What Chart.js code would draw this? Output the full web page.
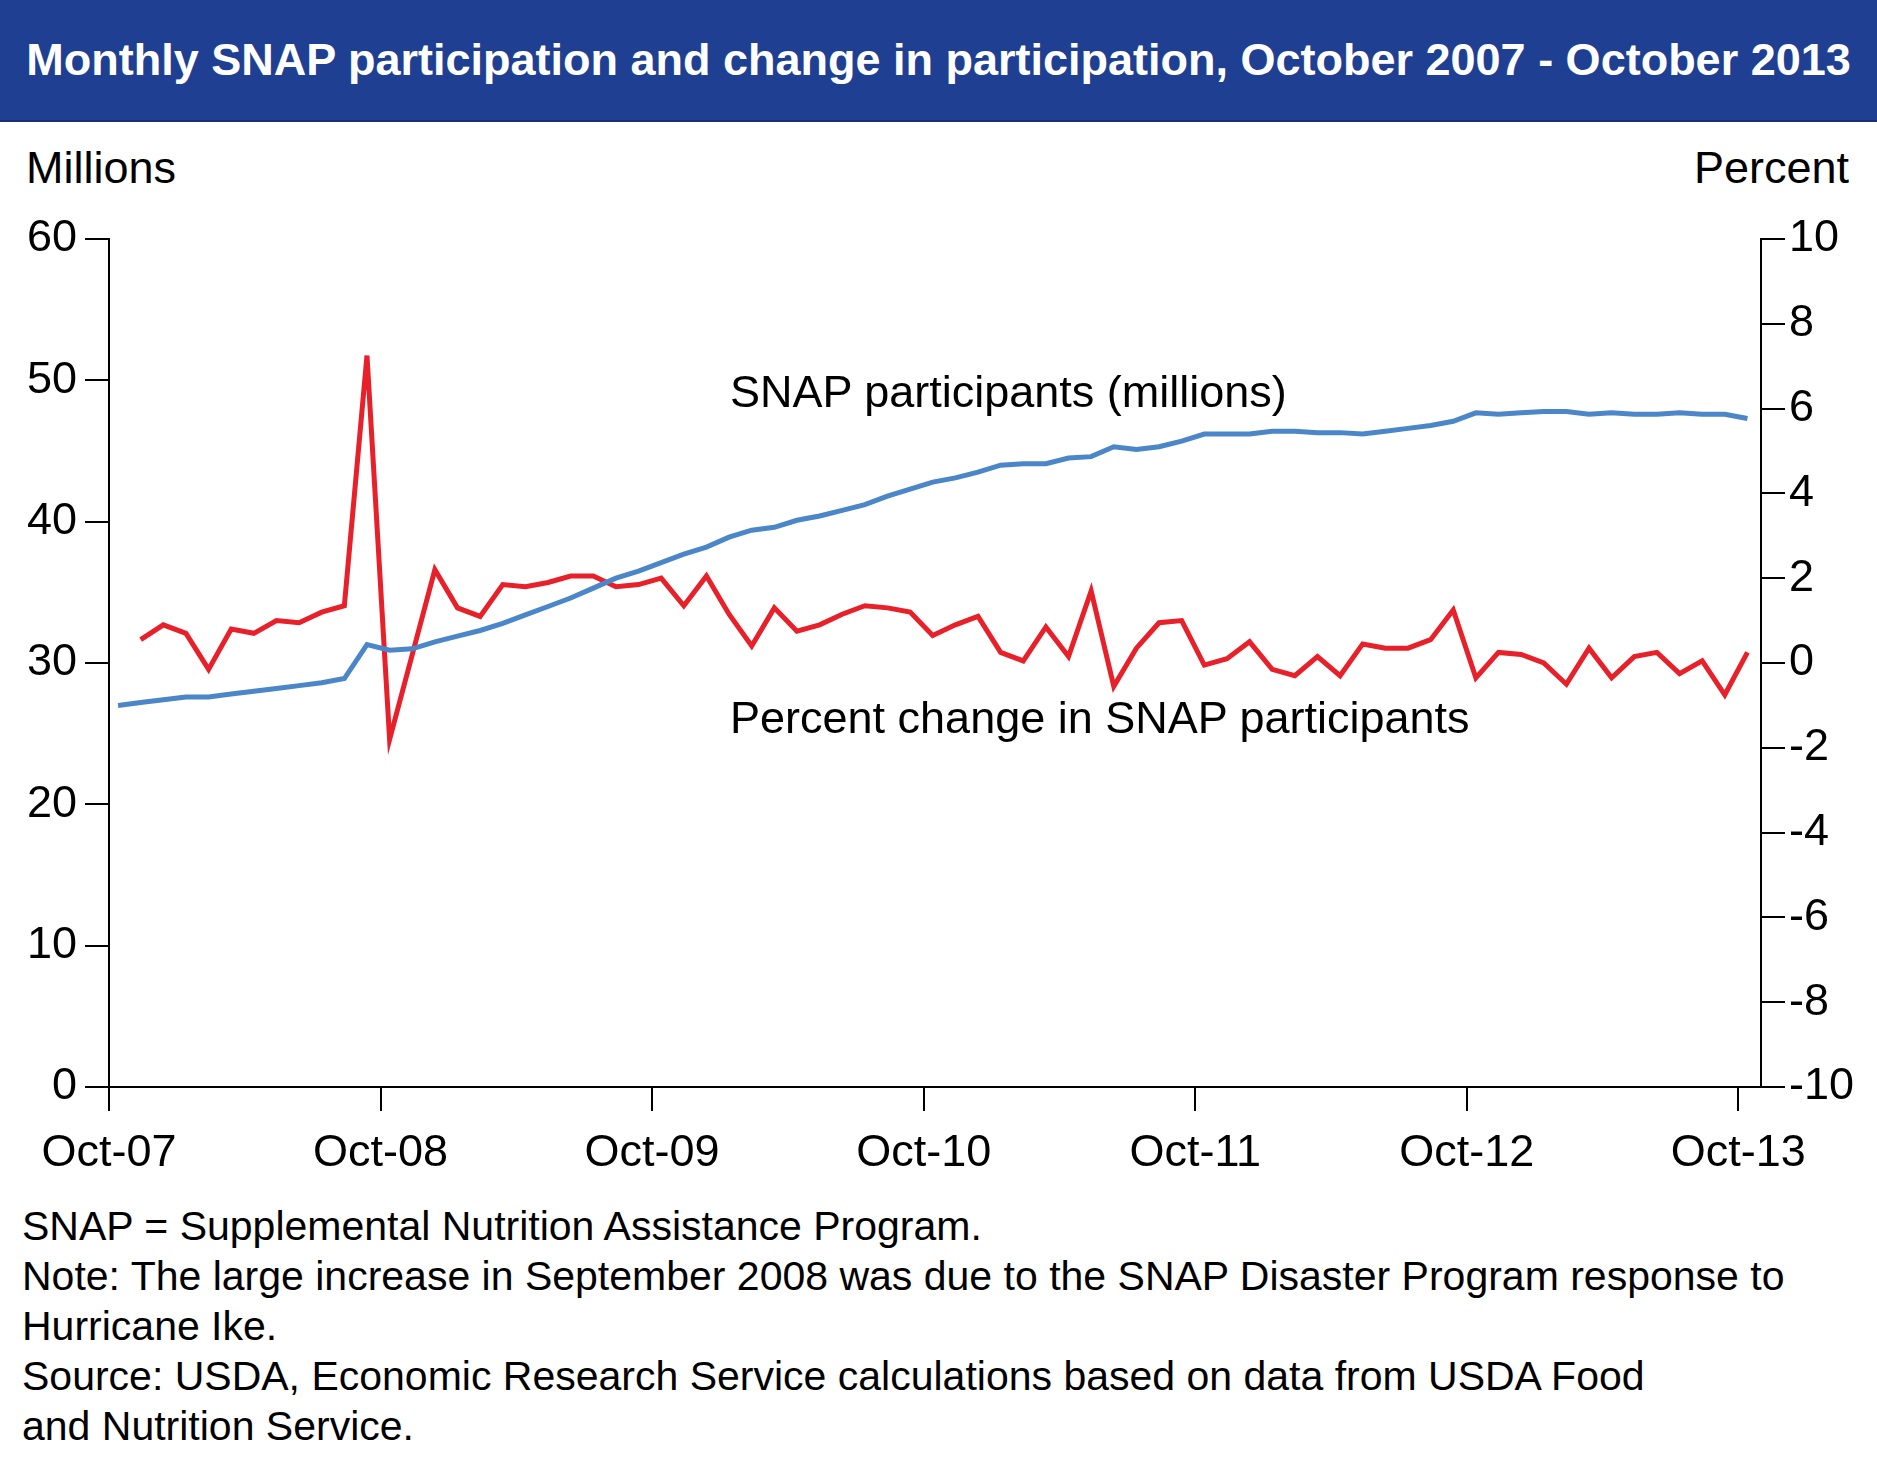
<!DOCTYPE html>
<html>
<head>
<meta charset="utf-8">
<script src="https://cdn.jsdelivr.net/npm/chart.js@4"></script>
<style>
  body { margin: 0; width: 1877px; height: 1459px; background: #fff; font-family: "Liberation Sans", Arial, sans-serif; position: relative; overflow: hidden; }
  #title { position: absolute; left: 0; top: 0; width: 1877px; height: 120px; background: #1f3f93; color: #fff; font-weight: bold; font-size: 45px; line-height: 120px; text-align: center; border-bottom: 2px solid #1a2f70; white-space: nowrap; }
  .lbl { position: absolute; font-size: 45px; color: #000; white-space: nowrap; }
  #wrap { position: absolute; left: 0; top: 200px; width: 1877px; height: 1000px; }
  #notes { position: absolute; left: 22px; top: 1201px; font-size: 41px; line-height: 50px; color: #000; white-space: nowrap; }
</style>
</head>
<body>
<div id="title">Monthly SNAP participation and change in participation, October 2007 - October 2013</div>
<div class="lbl" style="left:26px;top:142px;">Millions</div>
<div class="lbl" style="right:28px;top:142px;">Percent</div>
<div id="wrap"><canvas id="chart"></canvas></div>
<div class="lbl" style="left:730px;top:366px;">SNAP participants (millions)</div>
<div class="lbl" style="left:730px;top:692px;">Percent change in SNAP participants</div>
<div id="notes">
SNAP = Supplemental Nutrition Assistance Program.<br>
Note: The large increase in September 2008 was due to the SNAP Disaster Program response to<br>
Hurricane Ike.<br>
Source: USDA, Economic Research Service calculations based on data from USDA Food<br>
and Nutrition Service.
</div>
<script>
// monthly values, Oct 2007 .. Oct 2013
const tickLabels = ['Oct-07', 'Oct-08', 'Oct-09', 'Oct-10', 'Oct-11', 'Oct-12', 'Oct-13'];
const participants = [
  27.0, 27.2, 27.4, 27.6, 27.6, 27.8, 28.0, 28.2, 28.4, 28.6, 28.9, 31.3,
  30.9, 31.0, 31.5, 31.9, 32.3, 32.8, 33.4, 34.0, 34.6, 35.3, 36.0, 36.5,
  37.1, 37.7, 38.2, 38.9, 39.4, 39.6, 40.1, 40.4, 40.8, 41.2, 41.8, 42.3,
  42.8, 43.1, 43.5, 44.0, 44.1, 44.1, 44.5, 44.6, 45.3, 45.1, 45.3, 45.7,
  46.2, 46.2, 46.2, 46.4, 46.4, 46.3, 46.3, 46.2, 46.4, 46.6, 46.8, 47.1,
  47.7, 47.6, 47.7, 47.8, 47.8, 47.6, 47.7, 47.6, 47.6, 47.7, 47.6, 47.6, 47.3
];
const pctChange = [
  null, 0.55, 0.9, 0.7, -0.15, 0.8, 0.7, 1.0, 0.95, 1.2, 1.35, 7.25,
  -1.8, 0.2, 2.2, 1.3, 1.1, 1.85, 1.8, 1.9, 2.05, 2.05, 1.8, 1.85,
  2.0, 1.35, 2.05, 1.15, 0.4, 1.3, 0.75, 0.9, 1.15, 1.35, 1.3, 1.2,
  0.65, 0.9, 1.1, 0.25, 0.05, 0.85, 0.15, 1.7, -0.55, 0.35, 0.95, 1.0,
  -0.05, 0.1, 0.5, -0.15, -0.3, 0.15, -0.3, 0.45, 0.35, 0.35, 0.55, 1.25,
  -0.35, 0.25, 0.2, 0.0, -0.5, 0.35, -0.35, 0.15, 0.25, -0.25, 0.05, -0.75, 0.25
];
const pointOffset = 0.4;

const toXY = arr => arr.map((v, i) => ({ x: i + pointOffset, y: v }));
const font = { family: '"Liberation Sans", Arial, sans-serif', size: 45 };
const axisGrid = { drawOnChartArea: false, drawTicks: true, tickLength: 24, color: '#000', lineWidth: 2 };

new Chart(document.getElementById('chart'), {
  type: 'line',
  data: {
    datasets: [
      { data: toXY(participants), yAxisID: 'y', borderColor: '#4a86c8', borderWidth: 5, pointRadius: 0, tension: 0 },
      { data: toXY(pctChange), yAxisID: 'y2', borderColor: '#e8202a', borderWidth: 5, pointRadius: 0, tension: 0, spanGaps: false }
    ]
  },
  options: {
    responsive: true,
    maintainAspectRatio: false,
    animation: false,
    layout: { padding: { top: 39 } },
    plugins: { legend: { display: false }, tooltip: { enabled: false } },
    scales: {
      x: {
        type: 'linear', min: 0, max: 73,
        afterFit: s => { s.height = 113; },
        afterBuildTicks: s => { s.ticks = tickLabels.map((_, i) => ({ value: i * 12 })); },
        ticks: { font, color: '#000', padding: 16, maxRotation: 0, autoSkip: false, callback: v => tickLabels[v / 12] },
        grid: axisGrid, border: { color: '#000', width: 2 }
      },
      y: {
        position: 'left', min: 0, max: 60,
        afterFit: s => { s.width = 109; },
        ticks: { font, color: '#000', stepSize: 10, padding: 8 },
        grid: axisGrid, border: { color: '#000', width: 2 }
      },
      y2: {
        position: 'right', min: -10, max: 10,
        afterFit: s => { s.width = 116; },
        ticks: { font, color: '#000', stepSize: 2, padding: 4 },
        grid: axisGrid, border: { color: '#000', width: 2 }
      }
    }
  }
});
</script>
</body>
</html>
